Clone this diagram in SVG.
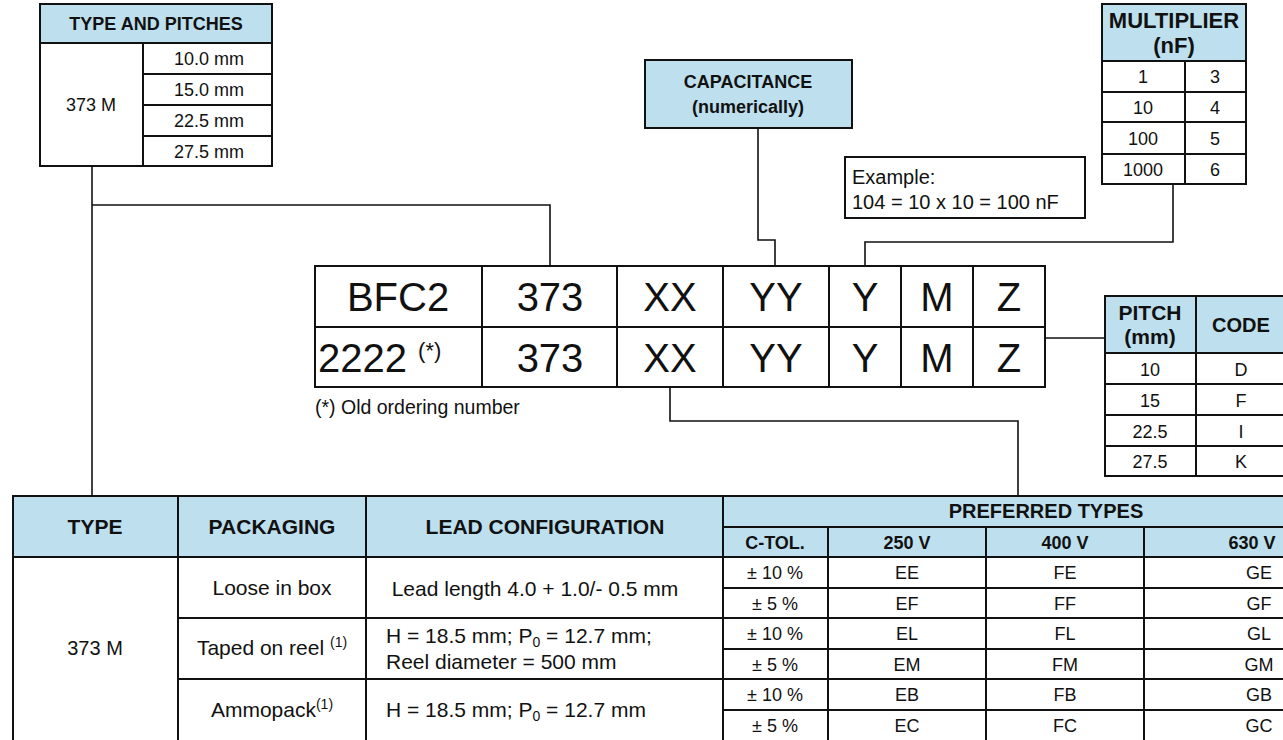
<svg xmlns="http://www.w3.org/2000/svg" width="1283" height="740" viewBox="0 0 1283 740">
<style>
text{font-family:"Liberation Sans",Arial,Helvetica,sans-serif;fill:#111;}
.b{font-weight:bold;font-size:18px;text-anchor:middle;}
.b2{font-weight:bold;font-size:21px;text-anchor:middle;}
.b3{font-weight:bold;font-size:20px;text-anchor:middle;}
.t{font-size:18px;text-anchor:middle;}
.t2{font-size:21px;text-anchor:middle;}
.tl{font-size:19px;}
.tl2{font-size:21px;}
.big{font-size:40px;text-anchor:middle;}
.hdr{fill:#bee0ee;stroke:none;}
.box{fill:#fff;stroke:#111;stroke-width:2;}
.frame{fill:none;stroke:#111;stroke-width:2;}
.ln{stroke:#111;stroke-width:2;fill:none;}
.con{stroke:#111;stroke-width:1.6;fill:none;}
.sup{font-size:14px;}
</style>

<g id="connectors">
  <polyline class="con" points="92,166 92,496"/>
  <polyline class="con" points="92,205 550,205 550,266"/>
  <polyline class="con" points="758,128 758,240 775,240 775,266"/>
  <polyline class="con" points="865,266 865,242 1173,242 1173,184"/>
  <polyline class="con" points="1045,338 1105,338"/>
  <polyline class="con" points="670,387 670,421 1018,421 1018,496"/>
</g>

<g id="type-and-pitches">
  <rect class="box" x="40" y="4" width="232" height="162"/>
  <rect class="hdr" x="41" y="5" width="230" height="38"/>
  <rect class="frame" x="40" y="4" width="232" height="162"/>
  <path class="ln" d="M40,43H272M143,43V166M143,74H272M143,105H272M143,136H272"/>
  <text class="b" x="156" y="30">TYPE AND PITCHES</text>
  <text class="t" x="91" y="111">373 M</text>
  <text class="t" x="209" y="65">10.0 mm</text>
  <text class="t" x="209" y="96">15.0 mm</text>
  <text class="t" x="209" y="127">22.5 mm</text>
  <text class="t" x="209" y="158">27.5 mm</text>
</g>

<g id="capacitance">
  <rect x="645" y="60" width="207" height="68" fill="#bee0ee" stroke="#111" stroke-width="2"/>
  <text class="b" x="748" y="88">CAPACITANCE</text>
  <text class="b" x="748" y="113">(numerically)</text>
</g>

<g id="example">
  <rect class="box" x="845" y="157" width="240" height="61"/>
  <text class="tl" x="852" y="184" style="font-size:20px">Example:</text>
  <text class="tl" x="852" y="209" style="font-size:20px">104 = 10 x 10 = 100 nF</text>
</g>

<g id="multiplier">
  <rect class="box" x="1102" y="4" width="144" height="180"/>
  <rect class="hdr" x="1103" y="5" width="142" height="56"/>
  <rect class="frame" x="1102" y="4" width="144" height="180"/>
  <path class="ln" d="M1102,61H1246M1185,61V184M1102,92H1246M1102,122H1246M1102,154H1246"/>
  <text x="1174" y="28" style="font-weight:bold;font-size:22px;text-anchor:middle">MULTIPLIER</text>
  <text x="1174" y="53" style="font-weight:bold;font-size:22px;text-anchor:middle">(nF)</text>
  <text class="t" x="1143" y="83">1</text><text class="t" x="1215" y="83">3</text>
  <text class="t" x="1143" y="114">10</text><text class="t" x="1215" y="114">4</text>
  <text class="t" x="1143" y="145">100</text><text class="t" x="1215" y="145">5</text>
  <text class="t" x="1143" y="176">1000</text><text class="t" x="1215" y="176">6</text>
</g>

<g id="code-table">
  <rect class="box" x="315" y="266" width="730" height="121"/>
  <path class="ln" d="M315,327H1045M482,266V387M617,266V387M723,266V387M829,266V387M901,266V387M973,266V387"/>
  <text class="big" x="398" y="311">BFC2</text>
  <text class="big" x="550" y="311">373</text>
  <text class="big" x="670" y="311">XX</text>
  <text class="big" x="776" y="311">YY</text>
  <text class="big" x="865" y="311">Y</text>
  <text class="big" x="937" y="311">M</text>
  <text class="big" x="1009" y="311">Z</text>
  <text x="318" y="372" style="font-size:40px">2222 <tspan style="font-size:22px" dy="-14">(*)</tspan></text>
  <text class="big" x="550" y="372">373</text>
  <text class="big" x="670" y="372">XX</text>
  <text class="big" x="776" y="372">YY</text>
  <text class="big" x="865" y="372">Y</text>
  <text class="big" x="937" y="372">M</text>
  <text class="big" x="1009" y="372">Z</text>
</g>

<g id="note">
  <text class="tl" x="315" y="414" style="font-size:19.5px">(*) Old ordering number</text>
</g>

<g id="pitch-table">
  <rect class="box" x="1105" y="296" width="190" height="180"/>
  <rect class="hdr" x="1106" y="297" width="188" height="56"/>
  <rect class="frame" x="1105" y="296" width="190" height="180"/>
  <path class="ln" d="M1105,353H1295M1196,296V476M1105,384H1295M1105,415H1295M1105,446H1295"/>
  <text class="b2" x="1150" y="320">PITCH</text>
  <text class="b2" x="1150" y="344">(mm)</text>
  <text class="b3" x="1241" y="332">CODE</text>
  <text class="t" x="1150" y="376">10</text><text class="t" x="1241" y="376">D</text>
  <text class="t" x="1150" y="407">15</text><text class="t" x="1241" y="407">F</text>
  <text class="t" x="1150" y="438">22.5</text><text class="t" x="1241" y="438">I</text>
  <text class="t" x="1150" y="468">27.5</text><text class="t" x="1241" y="468">K</text>
</g>

<g id="preferred-types-table">
  <rect class="box" x="13" y="496" width="1356" height="260"/>
  <rect class="hdr" x="14" y="497" width="1354" height="60"/>
  <rect class="frame" x="13" y="496" width="1356" height="260"/>
  <path class="ln" d="M13,557H1369M178,496V760M366,496V760M723,496V760M723,527H1369M828,527V760M986,527V760M1144,527V760M178,618H1369M178,679H1369M723,588H1369M723,649H1369M723,710H1369"/>
  <text class="b2" x="95" y="534">TYPE</text>
  <text class="b2" x="272" y="534">PACKAGING</text>
  <text class="b2" x="545" y="534">LEAD CONFIGURATION</text>
  <text class="b3" x="1046" y="518">PREFERRED TYPES</text>
  <text class="b" x="775" y="549">C-TOL.</text>
  <text class="b" x="907" y="549">250 V</text>
  <text class="b" x="1065" y="549">400 V</text>
  <text class="b" x="1252" y="549">630 V</text>

  <text class="t2" x="95" y="655" style="font-size:20px">373 M</text>
  <text class="t2" x="272" y="595">Loose in box</text>
  <text class="t2" x="272" y="655">Taped on reel <tspan class="sup" dy="-8">(1)</tspan></text>
  <text class="t2" x="272" y="717">Ammopack<tspan class="sup" dy="-8">(1)</tspan></text>

  <text class="t2" x="535" y="596">Lead length 4.0 + 1.0/- 0.5 mm</text>
  <text class="tl2" x="386" y="643">H = 18.5 mm; P<tspan class="sup" dy="4">0</tspan><tspan dy="-4"> = 12.7 mm;</tspan></text>
  <text class="tl2" x="386" y="669">Reel diameter = 500 mm</text>
  <text class="tl2" x="386" y="717">H = 18.5 mm; P<tspan class="sup" dy="4">0</tspan><tspan dy="-4"> = 12.7 mm</tspan></text>

  <text class="t" x="775" y="579">± 10 %</text><text class="t" x="907" y="579">EE</text><text class="t" x="1065" y="579">FE</text><text class="t" x="1259" y="579">GE</text>
  <text class="t" x="775" y="610">± 5 %</text><text class="t" x="907" y="610">EF</text><text class="t" x="1065" y="610">FF</text><text class="t" x="1259" y="610">GF</text>
  <text class="t" x="775" y="640">± 10 %</text><text class="t" x="907" y="640">EL</text><text class="t" x="1065" y="640">FL</text><text class="t" x="1259" y="640">GL</text>
  <text class="t" x="775" y="671">± 5 %</text><text class="t" x="907" y="671">EM</text><text class="t" x="1065" y="671">FM</text><text class="t" x="1259" y="671">GM</text>
  <text class="t" x="775" y="701">± 10 %</text><text class="t" x="907" y="701">EB</text><text class="t" x="1065" y="701">FB</text><text class="t" x="1259" y="701">GB</text>
  <text class="t" x="775" y="732">± 5 %</text><text class="t" x="907" y="732">EC</text><text class="t" x="1065" y="732">FC</text><text class="t" x="1259" y="732">GC</text>
</g>
</svg>
